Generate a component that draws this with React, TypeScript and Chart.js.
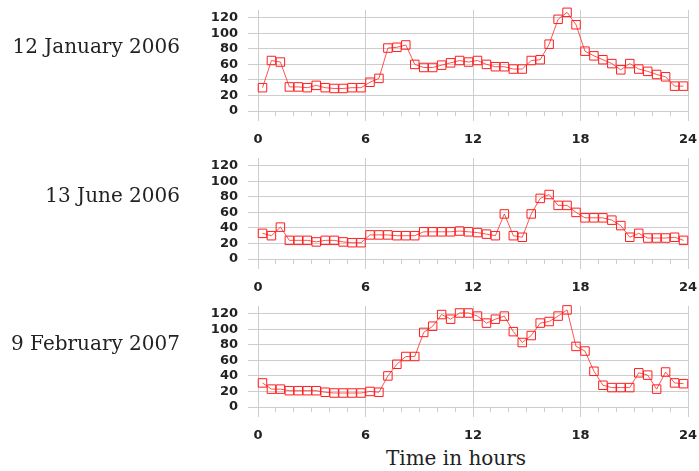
import React, { useEffect, useRef } from 'react';
import { Chart, registerables } from 'chart.js';

Chart.register(...registerables);

// Half-hour samples (hour of day)
const HOURS = [
  0.25, 0.75, 1.25, 1.75, 2.25, 2.75, 3.25, 3.75, 4.25, 4.75, 5.25, 5.75,
  6.25, 6.75, 7.25, 7.75, 8.25, 8.75, 9.25, 9.75, 10.25, 10.75, 11.25, 11.75,
  12.25, 12.75, 13.25, 13.75, 14.25, 14.75, 15.25, 15.75, 16.25, 16.75, 17.25, 17.75,
  18.25, 18.75, 19.25, 19.75, 20.25, 20.75, 21.25, 21.75, 22.25, 22.75, 23.25, 23.75,
];

const JAN_2006 = [
  30, 65, 63, 31, 31, 30, 33, 30, 29, 29, 30, 30,
  37, 42, 81, 82, 85, 60, 56, 56, 59, 62, 65, 63,
  65, 60, 57, 57, 54, 54, 65, 66, 86, 118, 127, 111,
  77, 71, 66, 61, 53, 61, 54, 51, 47, 44, 32, 32,
];

const JUN_2006 = [
  33, 30, 41, 24, 24, 24, 22, 24, 24, 22, 21, 21,
  31, 31, 31, 30, 30, 30, 35, 35, 35, 35, 36, 35,
  34, 32, 30, 58, 30, 28, 58, 78, 83, 69, 69, 60,
  53, 53, 53, 50, 43, 28, 33, 27, 27, 27, 28, 24,
];

const FEB_2007 = [
  31, 23, 23, 21, 21, 21, 21, 19, 18, 18, 18, 18,
  20, 19, 40, 55, 65, 65, 96, 104, 119, 113, 121, 121,
  117, 108, 113, 117, 97, 83, 92, 108, 110, 117, 125, 78,
  72, 46, 28, 25, 25, 25, 44, 41, 23, 45, 31, 30,
];

const PANEL_LABELS = ['12 January 2006', '13 June 2006', '9 February 2007'];
const X_TICKS = [0, 6, 12, 18, 24];
const Y_TICKS = [0, 20, 40, 60, 80, 100, 120];
const X_TITLE = 'Time in hours';

const GRID = '#cdcdcd';
const TEXT = '#222222';
const TICK_FONT = { family: 'DejaVu Sans', size: 13, weight: 'bold' };

function Panel({ values, top }: { values: number[]; top: number }) {
  const ref = useRef<HTMLCanvasElement>(null);
  useEffect(() => {
    const chart = new Chart(ref.current as HTMLCanvasElement, {
      type: 'line',
      data: {
        datasets: [
          {
            data: HOURS.map((h, i) => ({ x: h, y: values[i] })),
            borderColor: 'rgba(255,40,40,0.8)',
            borderWidth: 1,
            pointStyle: 'rect',
            pointRadius: 6,
            pointBorderColor: '#ff1e1e',
            pointBackgroundColor: 'rgba(0,0,0,0)',
            pointBorderWidth: 1,
            tension: 0,
            clip: false,
          } as any,
        ],
      },
      options: {
        responsive: false,
        animation: false,
        layout: { padding: { top: 10, right: 11, left: 0, bottom: 0 } },
        plugins: { legend: { display: false }, tooltip: { enabled: false } },
        scales: {
          x: {
            type: 'linear',
            min: 0,
            max: 24,
            border: { display: false },
            ticks: {
              stepSize: 1,
              autoSkip: false,
              maxRotation: 0,
              padding: 11,
              color: TEXT,
              font: TICK_FONT,
              callback: (v: any) => (X_TICKS.includes(Number(v)) ? String(v) : ''),
            },
            grid: {
              color: (ctx: any) => (X_TICKS.includes(ctx.tick?.value) ? GRID : 'rgba(0,0,0,0)'),
              tickColor: GRID,
              tickLength: 10,
              tickBorderDash: (ctx: any) => (X_TICKS.includes(ctx.tick?.value) ? [] : [5, 50]),
            } as any,
            afterFit: (s: any) => {
              s.height = 39;
              s.paddingLeft = 0;
              s.paddingRight = 0;
            },
          },
          y: {
            min: 0,
            max: 130,
            border: { display: false },
            afterBuildTicks: (s: any) => {
              s.ticks = Y_TICKS.map((v) => ({ value: v }));
            },
            ticks: {
              autoSkip: false,
              padding: 10,
              color: TEXT,
              font: TICK_FONT,
            },
            grid: { color: GRID, tickColor: GRID, tickLength: 10 },
            afterFit: (s: any) => {
              s.width = 258;
              s.paddingTop = 0;
              s.paddingBottom = 0;
            },
          },
        },
      } as any,
    });
    return () => chart.destroy();
  }, [values]);
  return (
    <canvas
      ref={ref}
      width={699}
      height={150}
      style={{ position: 'absolute', left: 0, top, width: 699, height: 150 }}
    />
  );
}

const labelStyle: React.CSSProperties = {
  position: 'absolute',
  left: 0,
  width: 180,
  textAlign: 'right',
  fontFamily: 'DejaVu Serif',
  fontSize: 20,
  lineHeight: '20px',
  color: TEXT,
  whiteSpace: 'nowrap',
};

export default function App() {
  return (
    <div
      style={{
        position: 'absolute',
        left: 0,
        top: 0,
        width: 699,
        height: 471,
        background: '#ffffff',
        overflow: 'hidden',
      }}
    >
      <Panel values={JAN_2006} top={0} />
      <Panel values={JUN_2006} top={148} />
      <Panel values={FEB_2007} top={296} />
      <div style={{ ...labelStyle, top: 36 }}>{PANEL_LABELS[0]}</div>
      <div style={{ ...labelStyle, top: 185 }}>{PANEL_LABELS[1]}</div>
      <div style={{ ...labelStyle, top: 333 }}>{PANEL_LABELS[2]}</div>
      <div
        style={{
          position: 'absolute',
          left: 356,
          width: 200,
          top: 448,
          textAlign: 'center',
          fontFamily: 'DejaVu Serif',
          fontSize: 20,
          lineHeight: '20px',
          color: TEXT,
          whiteSpace: 'nowrap',
        }}
      >
        {X_TITLE}
      </div>
    </div>
  );
}
